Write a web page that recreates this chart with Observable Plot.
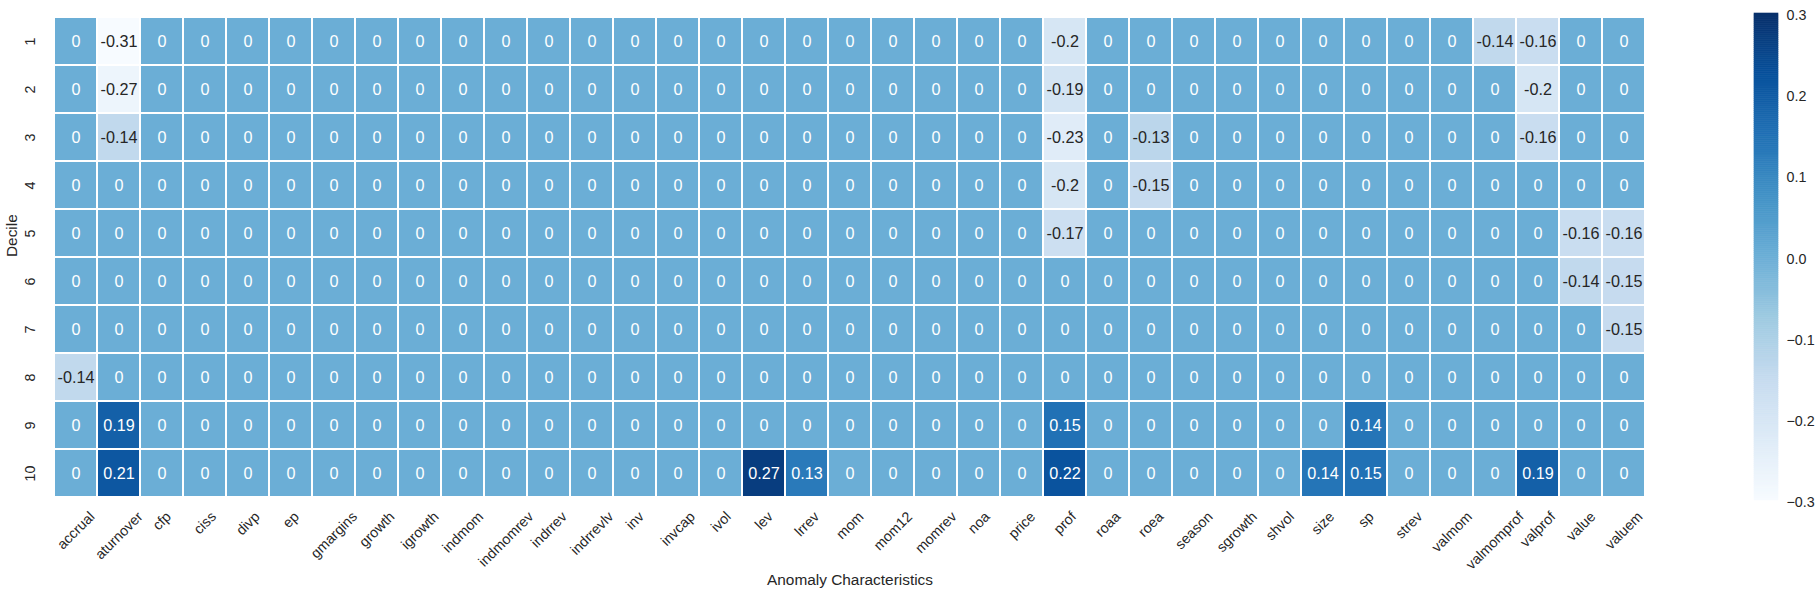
<!DOCTYPE html>
<html>
<head>
<meta charset="utf-8">
<script src="https://cdn.jsdelivr.net/npm/d3@7"></script>
<script src="https://cdn.jsdelivr.net/npm/@observablehq/plot@0.6"></script>
<style>
  html, body { margin: 0; padding: 0; background: #fff; }
  #wrap { position: relative; width: 1819px; height: 595px; overflow: hidden; font-family: "Liberation Sans", Arial, sans-serif; }
  #main { position: absolute; left: 0; top: 0; }
  #cbar { position: absolute; left: 1740px; top: 0; }
</style>
</head>
<body>
<div id="wrap"><div id="main"></div><div id="cbar"></div></div>
<script>
// ---------------- data ----------------
const columns = ["accrual","aturnover","cfp","ciss","divp","ep","gmargins","growth","igrowth","indmom",
  "indmomrev","indrrev","indrrevlv","inv","invcap","ivol","lev","lrrev","mom","mom12","momrev","noa",
  "price","prof","roaa","roea","season","sgrowth","shvol","size","sp","strev","valmom","valmomprof",
  "valprof","value","valuem"];
const deciles = ["1","2","3","4","5","6","7","8","9","10"];
// one row per decile, one value per column (same order as `columns`)
const values = [
  [0,-0.31,0,0,0,0,0,0,0,0,0,0,0,0,0,0,0,0,0,0,0,0,0,-0.2,0,0,0,0,0,0,0,0,0,-0.14,-0.16,0,0],
  [0,-0.27,0,0,0,0,0,0,0,0,0,0,0,0,0,0,0,0,0,0,0,0,0,-0.19,0,0,0,0,0,0,0,0,0,0,-0.2,0,0],
  [0,-0.14,0,0,0,0,0,0,0,0,0,0,0,0,0,0,0,0,0,0,0,0,0,-0.23,0,-0.13,0,0,0,0,0,0,0,0,-0.16,0,0],
  [0,0,0,0,0,0,0,0,0,0,0,0,0,0,0,0,0,0,0,0,0,0,0,-0.2,0,-0.15,0,0,0,0,0,0,0,0,0,0,0],
  [0,0,0,0,0,0,0,0,0,0,0,0,0,0,0,0,0,0,0,0,0,0,0,-0.17,0,0,0,0,0,0,0,0,0,0,0,-0.16,-0.16],
  [0,0,0,0,0,0,0,0,0,0,0,0,0,0,0,0,0,0,0,0,0,0,0,0,0,0,0,0,0,0,0,0,0,0,0,-0.14,-0.15],
  [0,0,0,0,0,0,0,0,0,0,0,0,0,0,0,0,0,0,0,0,0,0,0,0,0,0,0,0,0,0,0,0,0,0,0,0,-0.15],
  [-0.14,0,0,0,0,0,0,0,0,0,0,0,0,0,0,0,0,0,0,0,0,0,0,0,0,0,0,0,0,0,0,0,0,0,0,0,0],
  [0,0.19,0,0,0,0,0,0,0,0,0,0,0,0,0,0,0,0,0,0,0,0,0,0.15,0,0,0,0,0,0,0.14,0,0,0,0,0,0],
  [0,0.21,0,0,0,0,0,0,0,0,0,0,0,0,0,0,0.27,0.13,0,0,0,0,0,0.22,0,0,0,0,0,0.14,0.15,0,0,0,0.19,0,0]
];
const colorbarTicks = [-0.3,-0.2,-0.1,0,0.1,0.2,0.3];
const vmin = -0.3, vmax = 0.3;
// matplotlib "Blues" colormap stops
const bluesStops = ["#f7fbff","#deebf7","#c6dbef","#9ecae1","#6baed6","#4292c6","#2171b5","#08519c","#08306b"];

// ---------------- helpers ----------------
const stopDomain = bluesStops.map((_, i) => vmin + (vmax - vmin) * i / (bluesStops.length - 1));
const colorOpts = {type: "linear", domain: stopDomain, range: bluesStops, interpolate: "rgb", clamp: true};
const cmap = d3.scaleLinear().domain(stopDomain).range(bluesStops).interpolate(d3.interpolateRgb).clamp(true);
function luminance(c) {
  const rgb = d3.rgb(c);
  const lin = v => { v /= 255; return v <= 0.03928 ? v / 12.92 : Math.pow((v + 0.055) / 1.055, 2.4); };
  return 0.2126 * lin(rgb.r) + 0.7152 * lin(rgb.g) + 0.0722 * lin(rgb.b);
}
const table = [];
deciles.forEach((dec, i) => columns.forEach((col, j) => {
  const v = values[i][j];
  table.push({decile: dec, col, value: v, label: String(v), dark: luminance(cmap(v)) > 0.408});
}));

const FONT = '"Liberation Sans", Arial, sans-serif';
const tickFs = 14.3, labelFs = 15.4, annotFs = 16.2;
const ink = "#262626";

const ctx = document.createElement("canvas").getContext("2d");
ctx.font = `${tickFs}px "Liberation Sans"`;
const lineH = tickFs * 1.15;
const xLabelMarks = columns.map(c => {
  const w = ctx.measureText(c).width;
  const half = Math.SQRT1_2 * (w + lineH) / 2;
  return Plot.text([c], {x: d => d, frameAnchor: "bottom", dy: 8 + half, rotate: -45,
    textAnchor: "middle", lineAnchor: "middle", fontSize: tickFs, fill: ink});
});

// ---------------- main heatmap ----------------
const main = Plot.plot({
  width: 1700, height: 595,
  marginLeft: 47, marginRight: 48, marginTop: 13, marginBottom: 95,
  style: {fontFamily: FONT, color: ink, background: "transparent"},
  x: {domain: columns, padding: 0, axis: null},
  y: {domain: deciles, padding: 0, axis: null},
  color: colorOpts,
  marks: [
    Plot.cell(table, {x: "col", y: "decile", fill: "value", inset: 1}),
    Plot.text(table.filter(d => !d.dark), {x: "col", y: "decile", text: "label", fill: "white", fontSize: annotFs, lineAnchor: "middle"}),
    Plot.text(table.filter(d => d.dark), {x: "col", y: "decile", text: "label", fill: ink, fontSize: annotFs, lineAnchor: "middle"}),
    Plot.text(deciles, {y: d => d, frameAnchor: "left", dx: -17, rotate: -90, textAnchor: "middle", lineAnchor: "middle", fontSize: tickFs, fill: ink}),
    ...xLabelMarks,
    Plot.text(["Anomaly Characteristics"], {frameAnchor: "bottom", dy: 80, lineAnchor: "middle", fontSize: labelFs, fill: ink}),
    Plot.text(["Decile"], {frameAnchor: "left", dx: -35, rotate: -90, lineAnchor: "middle", fontSize: labelFs, fill: ink})
  ]
});
document.getElementById("main").appendChild(main);

// ---------------- colorbar ----------------
const steps = 240;
const grad = d3.range(steps).map(i => ({
  y1: vmin + (vmax - vmin) * i / steps,
  y2: vmin + (vmax - vmin) * (i + 1) / steps
}));
const cbar = Plot.plot({
  width: 79, height: 595,
  marginLeft: 14, marginRight: 41, marginTop: 13, marginBottom: 95,
  style: {fontFamily: FONT, color: ink, background: "transparent"},
  x: {domain: [0, 1], axis: null},
  y: {domain: [vmin, vmax], axis: null},
  color: colorOpts,
  marks: [
    Plot.rect(grad, {x1: 0, x2: 1, y1: "y1", y2: "y2", fill: d => (d.y1 + d.y2) / 2, stroke: d => (d.y1 + d.y2) / 2, strokeWidth: 0.6}),
    Plot.axisY(colorbarTicks, {anchor: "right", tickSize: 0, tickPadding: 8, tickFormat: d3.format(".1f"), fontSize: tickFs, dy: 2, label: null, fill: ink})
  ]
});
document.getElementById("cbar").appendChild(cbar);
</script>
</body>
</html>
